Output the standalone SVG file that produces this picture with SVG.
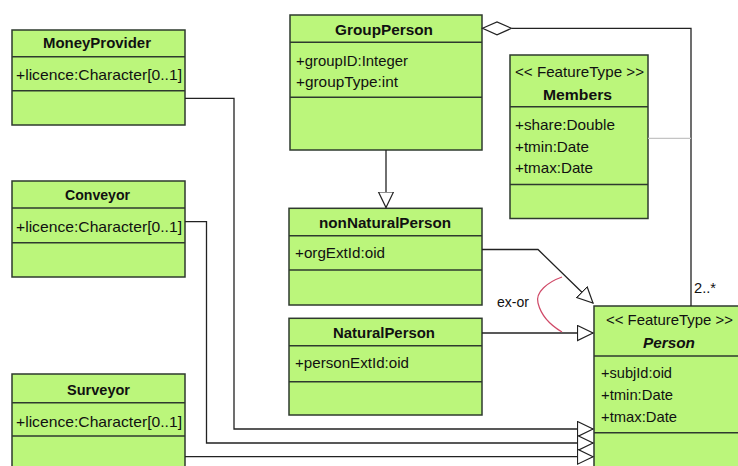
<svg xmlns="http://www.w3.org/2000/svg" width="738" height="466" viewBox="0 0 738 466">
  <style>
    .box { fill: #bbf67b; stroke: #2e3a2e; stroke-width: 1.5; }
    .sep { stroke: #2e3a2e; stroke-width: 1.5; }
    .t { font-family: "Liberation Sans", Arial, sans-serif; font-size: 15px; fill: #111; }
    .b { font-weight: bold; }
    .bi { font-weight: bold; font-style: italic; }
    .conn { fill: none; stroke: #222; stroke-width: 1.3; }
    .link { fill: none; stroke: #c4c4c4; stroke-width: 1.3; }
    .xor { fill: none; stroke: #d04a68; stroke-width: 1.2; }
  </style>
  <defs>
    <marker id="gen" markerUnits="userSpaceOnUse" markerWidth="18" markerHeight="18" refX="16" refY="8" orient="auto">
      <path d="M0.5,0.5 L16,8 L0.5,15.5 Z" fill="#fff" stroke="#222" stroke-width="1.2"/>
    </marker>
  </defs>
  <rect width="738" height="466" fill="#fff"/>

  <g id="MoneyProvider">
    <rect class="box" x="12" y="30" width="173" height="95"/>
    <line class="sep" x1="12" y1="56.7" x2="185" y2="56.7"/>
    <line class="sep" x1="12" y1="90.7" x2="185" y2="90.7"/>
    <text class="t b" x="43" y="48" textLength="108" lengthAdjust="spacingAndGlyphs">MoneyProvider</text>
    <text class="t" x="16" y="80" textLength="166" lengthAdjust="spacingAndGlyphs">+licence:Character[0..1]</text>
  </g>

  <g id="Conveyor">
    <rect class="box" x="12" y="181" width="173" height="96"/>
    <line class="sep" x1="12" y1="208" x2="185" y2="208"/>
    <line class="sep" x1="12" y1="242.7" x2="185" y2="242.7"/>
    <text class="t b" x="65" y="200" textLength="65" lengthAdjust="spacingAndGlyphs">Conveyor</text>
    <text class="t" x="16" y="232" textLength="166" lengthAdjust="spacingAndGlyphs">+licence:Character[0..1]</text>
  </g>

  <g id="Surveyor">
    <rect class="box" x="12" y="374" width="173" height="110"/>
    <line class="sep" x1="12" y1="402.7" x2="185" y2="402.7"/>
    <line class="sep" x1="12" y1="436" x2="185" y2="436"/>
    <text class="t b" x="67" y="395" textLength="63" lengthAdjust="spacingAndGlyphs">Surveyor</text>
    <text class="t" x="16" y="426.5" textLength="166" lengthAdjust="spacingAndGlyphs">+licence:Character[0..1]</text>
  </g>

  <g id="GroupPerson">
    <rect class="box" x="290" y="15" width="192" height="135"/>
    <line class="sep" x1="290" y1="42.3" x2="482" y2="42.3"/>
    <line class="sep" x1="290" y1="97.3" x2="482" y2="97.3"/>
    <text class="t b" x="335" y="34.5" textLength="98" lengthAdjust="spacingAndGlyphs">GroupPerson</text>
    <text class="t" x="296" y="66" textLength="112" lengthAdjust="spacingAndGlyphs">+groupID:Integer</text>
    <text class="t" x="296" y="87.3" textLength="102" lengthAdjust="spacingAndGlyphs">+groupType:int</text>
  </g>

  <g id="Members">
    <rect class="box" x="510" y="55" width="138" height="163.5"/>
    <line class="sep" x1="510" y1="106.7" x2="648" y2="106.7"/>
    <line class="sep" x1="510" y1="184.5" x2="648" y2="184.5"/>
    <text class="t" x="515" y="77.3" textLength="129" lengthAdjust="spacingAndGlyphs">&lt;&lt; FeatureType &gt;&gt;</text>
    <text class="t b" x="543" y="100" textLength="69" lengthAdjust="spacingAndGlyphs">Members</text>
    <text class="t" x="515" y="130" textLength="100" lengthAdjust="spacingAndGlyphs">+share:Double</text>
    <text class="t" x="515" y="151.7" textLength="74" lengthAdjust="spacingAndGlyphs">+tmin:Date</text>
    <text class="t" x="515" y="172.7" textLength="78" lengthAdjust="spacingAndGlyphs">+tmax:Date</text>
  </g>

  <g id="nonNaturalPerson">
    <rect class="box" x="289" y="208.3" width="193" height="96.7"/>
    <line class="sep" x1="289" y1="235.7" x2="482" y2="235.7"/>
    <line class="sep" x1="289" y1="270" x2="482" y2="270"/>
    <text class="t b" x="319" y="228.3" textLength="132" lengthAdjust="spacingAndGlyphs">nonNaturalPerson</text>
    <text class="t" x="295" y="258.3" textLength="90" lengthAdjust="spacingAndGlyphs">+orgExtId:oid</text>
  </g>

  <g id="NaturalPerson">
    <rect class="box" x="289" y="318.3" width="193" height="96.7"/>
    <line class="sep" x1="289" y1="345.7" x2="482" y2="345.7"/>
    <line class="sep" x1="289" y1="381.7" x2="482" y2="381.7"/>
    <text class="t b" x="333" y="338.3" textLength="102" lengthAdjust="spacingAndGlyphs">NaturalPerson</text>
    <text class="t" x="295" y="368.3" textLength="114" lengthAdjust="spacingAndGlyphs">+personExtId:oid</text>
  </g>

  <g id="Person">
    <rect class="box" x="594" y="306" width="160" height="180"/>
    <line class="sep" x1="594" y1="356" x2="754" y2="356"/>
    <line class="sep" x1="594" y1="432.7" x2="754" y2="432.7"/>
    <text class="t" x="606" y="325" textLength="127" lengthAdjust="spacingAndGlyphs">&lt;&lt; FeatureType &gt;&gt;</text>
    <text class="t bi" x="643" y="348.3" textLength="52" lengthAdjust="spacingAndGlyphs">Person</text>
    <text class="t" x="601" y="378.3" textLength="71" lengthAdjust="spacingAndGlyphs">+subjId:oid</text>
    <text class="t" x="601" y="400" textLength="72" lengthAdjust="spacingAndGlyphs">+tmin:Date</text>
    <text class="t" x="601" y="421.7" textLength="76" lengthAdjust="spacingAndGlyphs">+tmax:Date</text>
  </g>

  <g id="connectors">
    <!-- aggregation: GroupPerson (diamond end) to Person -->
    <polyline class="conn" points="512,28.3 691,28.3 691,306"/>
    <polygon points="482.5,28.3 497,22 511.5,28.3 497,34.8" fill="#fff" stroke="#222" stroke-width="1.2"/>
    <text class="t" x="694" y="293.3" textLength="22" lengthAdjust="spacingAndGlyphs">2..*</text>
    <!-- association class link to Members -->
    <line class="link" x1="648" y1="138.3" x2="691" y2="138.3"/>
    <!-- generalizations -->
    <line class="conn" x1="386" y1="150" x2="386" y2="207.5" marker-end="url(#gen)"/>
    <polyline class="conn" points="482,249.5 538,249.5 593,303" marker-end="url(#gen)"/>
    <line class="conn" x1="482" y1="333" x2="593" y2="333" marker-end="url(#gen)"/>
    <polyline class="conn" points="185,98.3 234,98.3 234,429 593,429" marker-end="url(#gen)"/>
    <polyline class="conn" points="185,221.7 206.5,221.7 206.5,443 593,443" marker-end="url(#gen)"/>
    <line class="conn" x1="185" y1="456.7" x2="593" y2="456.7" marker-end="url(#gen)"/>
    <!-- exclusive-or constraint -->
    <path class="xor" d="M562,277 C548,282 535,292 538,303 C541,315 550,325 562,332"/>
    <text class="t" x="497" y="306.7" textLength="32" lengthAdjust="spacingAndGlyphs">ex-or</text>
  </g>
</svg>
